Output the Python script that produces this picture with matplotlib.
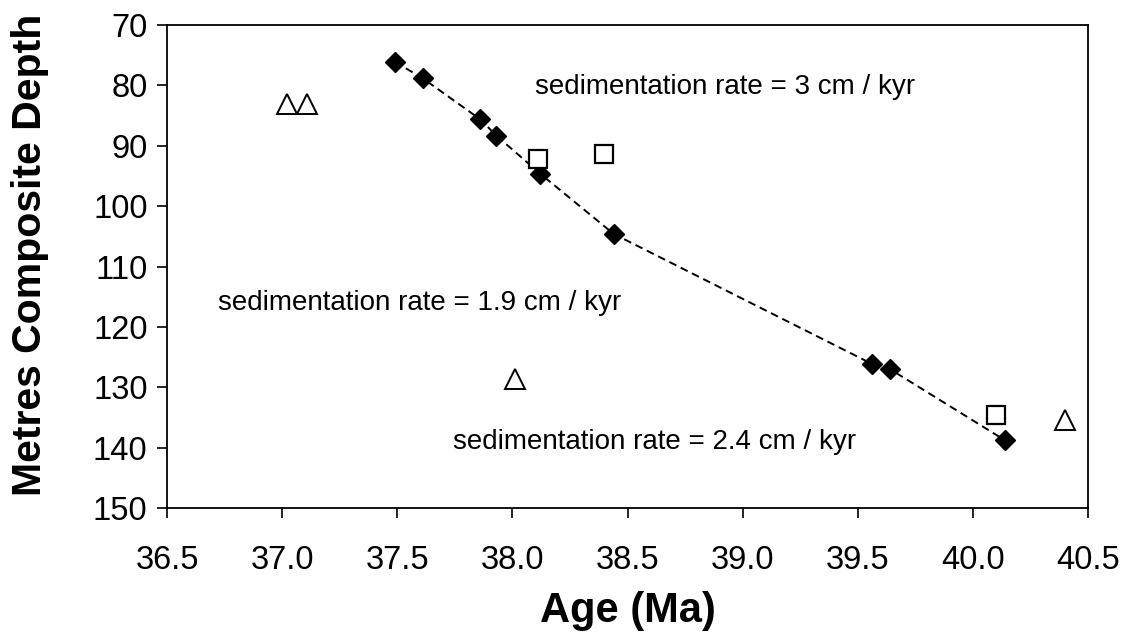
import matplotlib
matplotlib.use("Agg")
import matplotlib.pyplot as plt

plt.rcParams['font.family'] = ['Liberation Sans', 'DejaVu Sans']

# tie points (filled diamonds, joined by the dashed age model)
tie_age = [37.49, 37.61, 37.86, 37.93, 38.12, 38.44, 39.56, 39.64, 40.14]
tie_depth = [76.1, 78.8, 85.6, 88.3, 94.6, 104.6, 126.1, 127.0, 138.8]

# open squares
sq_age = [38.11, 38.40, 40.10]
sq_depth = [92.2, 91.4, 134.6]

# open triangles
tri_age = [37.02, 37.11, 38.01, 40.40]
tri_depth = [83.1, 83.1, 128.7, 135.4]

x_ticks = [36.5, 37.0, 37.5, 38.0, 38.5, 39.0, 39.5, 40.0, 40.5]
y_ticks = [70, 80, 90, 100, 110, 120, 130, 140, 150]

rate_labels = ['sedimentation rate = 3 cm / kyr',
               'sedimentation rate = 1.9 cm / kyr',
               'sedimentation rate = 2.4 cm / kyr']
rate_pos = [(38.10, 80.3), (36.72, 116.0), (37.74, 139.0)]

fig = plt.figure(figsize=(11.37, 6.43), dpi=100)
ax = fig.add_axes([0.1469, 0.21, 0.81, 0.751])

ax.plot(tie_age, tie_depth, color='black', linestyle=(0, (4, 2.5)), linewidth=1.4,
        marker='D', markersize=10.5, markerfacecolor='black', markeredgecolor='black')
ax.plot(sq_age, sq_depth, linestyle='none', marker='s', markersize=12.5,
        markerfacecolor='white', markeredgecolor='black', markeredgewidth=1.6)
ax.plot(tri_age, tri_depth, linestyle='none', marker='^', markersize=14,
        markerfacecolor='white', markeredgecolor='black', markeredgewidth=1.4)

for txt, (x, y) in zip(rate_labels, rate_pos):
    ax.text(x, y, txt, fontsize=20, ha='left', va='center')

ax.set_xlim(36.5, 40.5)
ax.set_ylim(150, 70)
ax.set_xticks(x_ticks)
ax.set_xticklabels([f'{v:.1f}' for v in x_ticks])
ax.set_yticks(y_ticks)
ax.tick_params(axis='both', direction='out', length=7, width=1.2, labelsize=23.5, pad=7)
ax.tick_params(axis='x', pad=20)

for s in ax.spines.values():
    s.set_linewidth(1.3)

ax.set_xlabel('Age (Ma)', fontsize=30, fontweight='bold')
ax.xaxis.set_label_coords(0.5, -0.172)
ax.set_ylabel('Metres Composite Depth', fontsize=29.5, fontweight='bold')
ax.yaxis.set_label_coords(-0.128, 0.524)

fig.savefig('out.png', dpi=100)
